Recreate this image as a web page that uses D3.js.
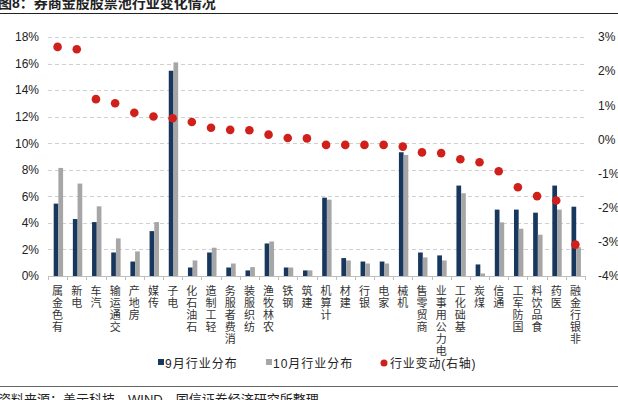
<!DOCTYPE html>
<html>
<head>
<meta charset="utf-8">
<script src="https://cdn.jsdelivr.net/npm/d3@7"></script>
<style>
  body { margin: 0; background: #fff; }
  text { font-family: "Liberation Sans", "Noto Sans CJK SC", sans-serif; }
</style>
</head>
<body>
<div id="chart"></div>
<script>
let categories = ['有色金属','电新','汽车','交通运输','房地产','传媒','电子','石油石化','轻工制造','消费者服务',
  '纺织服装','农林牧渔','钢铁','建筑','计算机','建材','银行','家电','机械','商贸零售',
  '电力公用事业','基础化工','煤炭','通信','国防军工','食品饮料','医药','非银行金融'];
let sep_share = [5.45,4.29,4.06,1.77,1.09,3.38,15.46,0.64,1.77,0.64,
  0.42,2.45,0.64,0.42,5.90,1.35,1.09,1.09,9.32,1.77,
  1.55,6.81,0.87,5.00,5.00,4.77,6.81,5.22];
let oct_share = [8.14,6.96,5.25,2.83,1.85,4.06,16.09,1.17,2.13,0.94,
  0.67,2.60,0.64,0.42,5.75,1.17,0.94,0.94,9.12,1.40,
  1.17,6.23,0.19,4.04,3.56,3.11,5.00,2.17];
let change = [2.71,2.64,1.18,1.06,0.78,0.67,0.62,0.51,0.34,0.28,
  0.27,0.14,0.04,0.03,-0.16,-0.16,-0.16,-0.16,-0.21,-0.38,
  -0.40,-0.58,-0.67,-0.93,-1.40,-1.66,-1.79,-3.08];
let left_ticks = [0,2,4,6,8,10,12,14,16,18];
let right_ticks = [-4,-3,-2,-1,0,1,2,3];

let chart_width = 618;
let chart_height = 400;
let plot = { left: 48, right: 585, top: 37, bottom: 276 };

let svg = d3.select('#chart')
    .append('svg')
    .attr('width', chart_width)
    .attr('height', chart_height);

let x_scale = d3.scaleBand()
    .domain(categories)
    .range([plot.left, plot.right]);

let y_left = d3.scaleLinear()
    .domain([0, 18])
    .range([plot.bottom, plot.top]);

let y_right = d3.scaleLinear()
    .domain([-4, 3])
    .range([plot.bottom, plot.top]);

// Title and frame lines
svg.append('text')
    .attr('x', -2).attr('y', 8)
    .attr('font-size', 14).attr('font-weight', 'bold')
    .attr('fill', '#222')
    .text('图8：券商金股股票池行业变化情况');
svg.append('line')
    .attr('x1', 0).attr('x2', chart_width)
    .attr('y1', 13.5).attr('y2', 13.5)
    .attr('stroke', '#222').attr('stroke-width', 1.2);
svg.append('line')
    .attr('x1', 0).attr('x2', chart_width)
    .attr('y1', 386.5).attr('y2', 386.5)
    .attr('stroke', '#666').attr('stroke-width', 1.2);
svg.append('text')
    .attr('x', -2).attr('y', 404)
    .attr('font-size', 13).attr('fill', '#222')
    .text('资料来源：盖亍科技，WIND，国信证券经济研究所整理');

// Gridlines
svg.append('g')
    .selectAll('line')
    .data(left_ticks.filter(d => d > 0))
    .enter()
    .append('line')
    .attr('x1', plot.left).attr('x2', plot.right)
    .attr('y1', d => Math.round(y_left(d)) + 0.5)
    .attr('y2', d => Math.round(y_left(d)) + 0.5)
    .attr('stroke', '#d0d0d0')
    .attr('stroke-dasharray', '4,3');

// Left axis
let left_axis = svg.append('g')
    .attr('transform', 'translate(' + plot.left + ',0)')
    .call(d3.axisLeft(y_left).tickValues(left_ticks).tickSize(0).tickPadding(9).tickFormat(d => d + '%'));
left_axis.select('.domain').remove();
left_axis.selectAll('text').attr('font-size', 12).attr('fill', '#222')
    .style('font-family', '"Liberation Sans", sans-serif');

// Right axis
let right_axis = svg.append('g')
    .attr('transform', 'translate(' + (plot.right + 13) + ',0)')
    .call(d3.axisRight(y_right).tickValues(right_ticks).tickSize(0).tickPadding(0).tickFormat(d => d + '%'));
right_axis.select('.domain').remove();
right_axis.selectAll('text').attr('font-size', 12).attr('fill', '#222')
    .style('font-family', '"Liberation Sans", sans-serif');

// Bars
let bar_w = 4.7;
svg.append('g')
    .selectAll('rect')
    .data(sep_share)
    .enter()
    .append('rect')
    .attr('x', (d, i) => x_scale(categories[i]) + x_scale.bandwidth() / 2 - bar_w + 0.8)
    .attr('y', d => y_left(d))
    .attr('width', bar_w)
    .attr('height', d => plot.bottom - y_left(d))
    .attr('fill', '#17375e');

svg.append('g')
    .selectAll('rect')
    .data(oct_share)
    .enter()
    .append('rect')
    .attr('x', (d, i) => x_scale(categories[i]) + x_scale.bandwidth() / 2 + 0.8)
    .attr('y', d => y_left(d))
    .attr('width', bar_w)
    .attr('height', d => plot.bottom - y_left(d))
    .attr('fill', '#a6a6a6');

// Category axis
let x_axis = svg.append('g')
    .attr('transform', 'translate(0,' + plot.bottom + ')');
x_axis.append('line')
    .attr('x1', plot.left).attr('x2', plot.right)
    .attr('y1', 0.5).attr('y2', 0.5)
    .attr('stroke', '#bfbfbf');
x_axis.selectAll('.tick')
    .data(categories.concat(['end']))
    .enter()
    .append('line')
    .attr('x1', (d, i) => Math.round(plot.left + i * x_scale.step()) + 0.5)
    .attr('x2', (d, i) => Math.round(plot.left + i * x_scale.step()) + 0.5)
    .attr('y1', 0).attr('y2', 4)
    .attr('stroke', '#bfbfbf');

// Vertical category labels, read bottom to top
let labels = svg.append('g')
    .selectAll('text')
    .data(categories)
    .enter()
    .append('text')
    .attr('font-size', 11)
    .attr('fill', '#333')
    .attr('text-anchor', 'middle')
    .style('font-family', '"Noto Sans CJK SC", sans-serif');
labels.each(function(d) {
    let chars = d.split('').reverse();
    let cx = x_scale(d) + x_scale.bandwidth() / 2;
    d3.select(this).selectAll('tspan')
        .data(chars)
        .enter()
        .append('tspan')
        .attr('x', cx)
        .attr('y', (c, j) => 295 + j * 12)
        .text(c => c);
});

// Change dots (right axis)
svg.append('g')
    .selectAll('circle')
    .data(change)
    .enter()
    .append('circle')
    .attr('cx', (d, i) => x_scale(categories[i]) + x_scale.bandwidth() / 2)
    .attr('cy', d => y_right(d))
    .attr('r', 4.3)
    .attr('fill', '#d0201c');

// Legend
let legend = svg.append('g')
    .attr('font-size', 12)
    .attr('fill', '#222');
legend.append('rect').attr('x', 158).attr('y', 359).attr('width', 6).attr('height', 6).attr('fill', '#17375e');
legend.append('text').attr('x', 165).attr('y', 368).attr('letter-spacing', 1).text('9月行业分布');
legend.append('rect').attr('x', 266).attr('y', 359).attr('width', 6).attr('height', 6).attr('fill', '#a6a6a6');
legend.append('text').attr('x', 273).attr('y', 368).attr('letter-spacing', 1).text('10月行业分布');
legend.append('circle').attr('cx', 384).attr('cy', 363).attr('r', 3.5).attr('fill', '#d0201c');
legend.append('text').attr('x', 390).attr('y', 368).attr('letter-spacing', 0.8).text('行业变动(右轴)');
</script>
</body>
</html>
